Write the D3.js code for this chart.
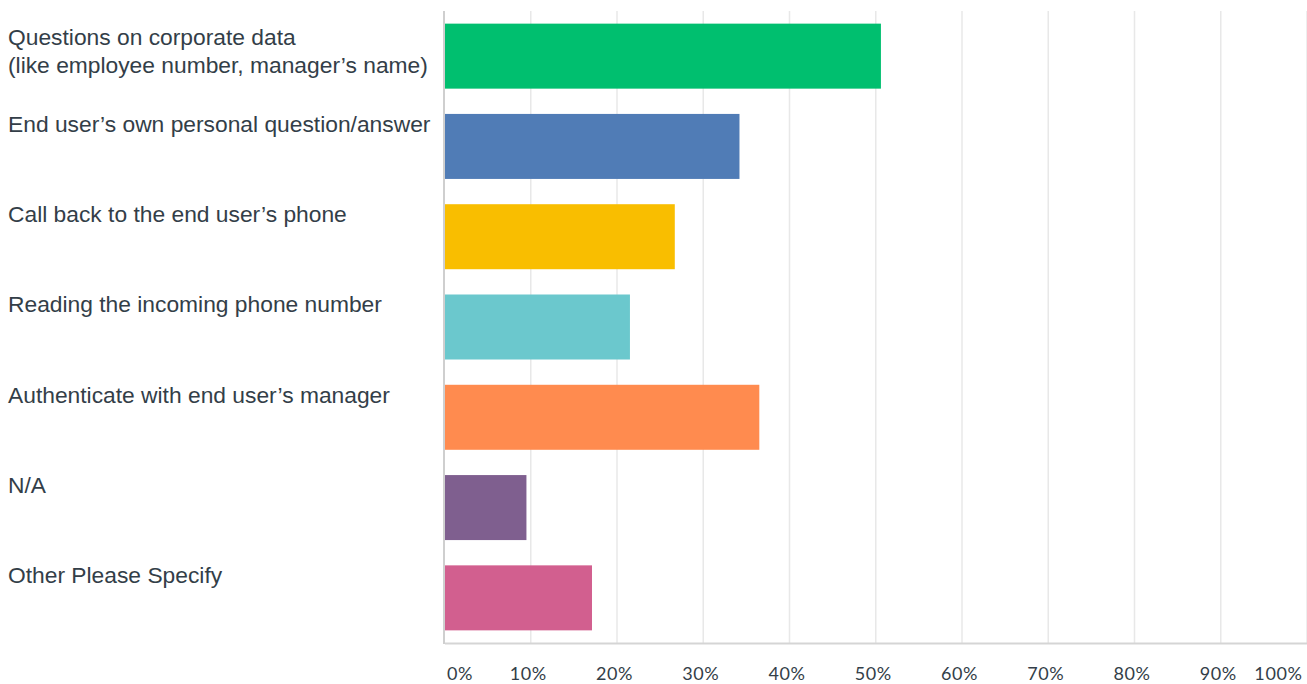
<!DOCTYPE html>
<html>
<head>
<meta charset="utf-8">
<script src="https://cdn.jsdelivr.net/npm/d3@7"></script>
<style>
  html, body { margin: 0; padding: 0; background: #fff; }
  svg { display: block; }
</style>
</head>
<body>
<svg id="chart" width="1307" height="684"></svg>
<script>
// Answer choices (each entry is a list of label lines)
const categories = [
  ["Questions on corporate data", "(like employee number, manager\u2019s name)"],
  ["End user\u2019s own personal question/answer"],
  ["Call back to the end user\u2019s phone"],
  ["Reading the incoming phone number"],
  ["Authenticate with end user\u2019s manager"],
  ["N/A"],
  ["Other Please Specify"]
];
// Share of respondents, percent
const values = [50.6, 34.2, 26.7, 21.5, 36.5, 9.5, 17.1];
const colors = ["#00BF6F", "#507CB6", "#F9BE00", "#6BC8CD", "#FF8B4F", "#7F5F8F", "#D25F8F"];
const tickValues = [0, 10, 20, 30, 40, 50, 60, 70, 80, 90, 100];

const svg = d3.select("#chart");
const plot = { left: 444.5, right: 1307, top: 11, bottom: 643 };

const x = d3.scaleLinear().domain([0, 100]).range([plot.left, plot.right]);
const y = d3.scaleBand()
  .domain(d3.range(categories.length))
  .range([plot.top, plot.bottom])
  .paddingInner(0.28)
  .paddingOuter(0.14);

// Vertical grid lines
svg.append("g")
  .selectAll("line")
  .data(tickValues.slice(1))
  .join("line")
  .attr("x1", d => x(d)).attr("x2", d => x(d))
  .attr("y1", plot.top).attr("y2", plot.bottom)
  .attr("stroke", "#e8e8e8")
  .attr("stroke-width", 1.5);

// Bars
svg.append("g")
  .selectAll("rect")
  .data(values)
  .join("rect")
  .attr("x", x(0) + 0.5)
  .attr("y", (d, i) => y(i))
  .attr("width", d => x(d) - x(0) - 0.5)
  .attr("height", y.bandwidth())
  .attr("fill", (d, i) => colors[i]);

// Left axis line
svg.append("line")
  .attr("x1", plot.left - 0.5).attr("x2", plot.left - 0.5)
  .attr("y1", plot.top).attr("y2", plot.bottom + 1)
  .attr("stroke", "#cfcfcf")
  .attr("stroke-width", 2);

// Bottom axis
const xAxis = d3.axisBottom(x)
  .tickValues(tickValues)
  .tickFormat(d => d + "%")
  .tickSize(0)
  .tickPadding(24);

const gx = svg.append("g")
  .attr("transform", `translate(0,${plot.bottom})`)
  .call(xAxis);
gx.select(".domain")
  .attr("stroke", "#d5d5d5")
  .attr("stroke-width", 2);
gx.selectAll(".tick text")
  .attr("fill", "#333e48")
  .attr("font-family", "Lato, 'Open Sans', sans-serif")
  .attr("font-size", 18)
  .attr("letter-spacing", 0.6)
  .attr("text-anchor", (d, i) => i === 0 ? "start" : (i === tickValues.length - 1 ? "end" : "middle"))
  .attr("dx", (d, i) => i === 0 ? 2 : (i === tickValues.length - 1 ? -5 : -3));

// Category labels
const labels = svg.append("g")
  .selectAll("text")
  .data(categories)
  .join("text")
  .attr("x", 8)
  .attr("y", (d, i) => y(i) + (d.length > 1 ? 21 : 18))
  .attr("fill", "#333e48")
  .attr("font-family", "'Liberation Sans', Arial, sans-serif")
  .attr("font-size", 22.8);

labels.selectAll("tspan")
  .data(d => d)
  .join("tspan")
  .attr("x", 8)
  .attr("dy", (d, i) => i === 0 ? 0 : 28)
  .text(d => d);
</script>
</body>
</html>
